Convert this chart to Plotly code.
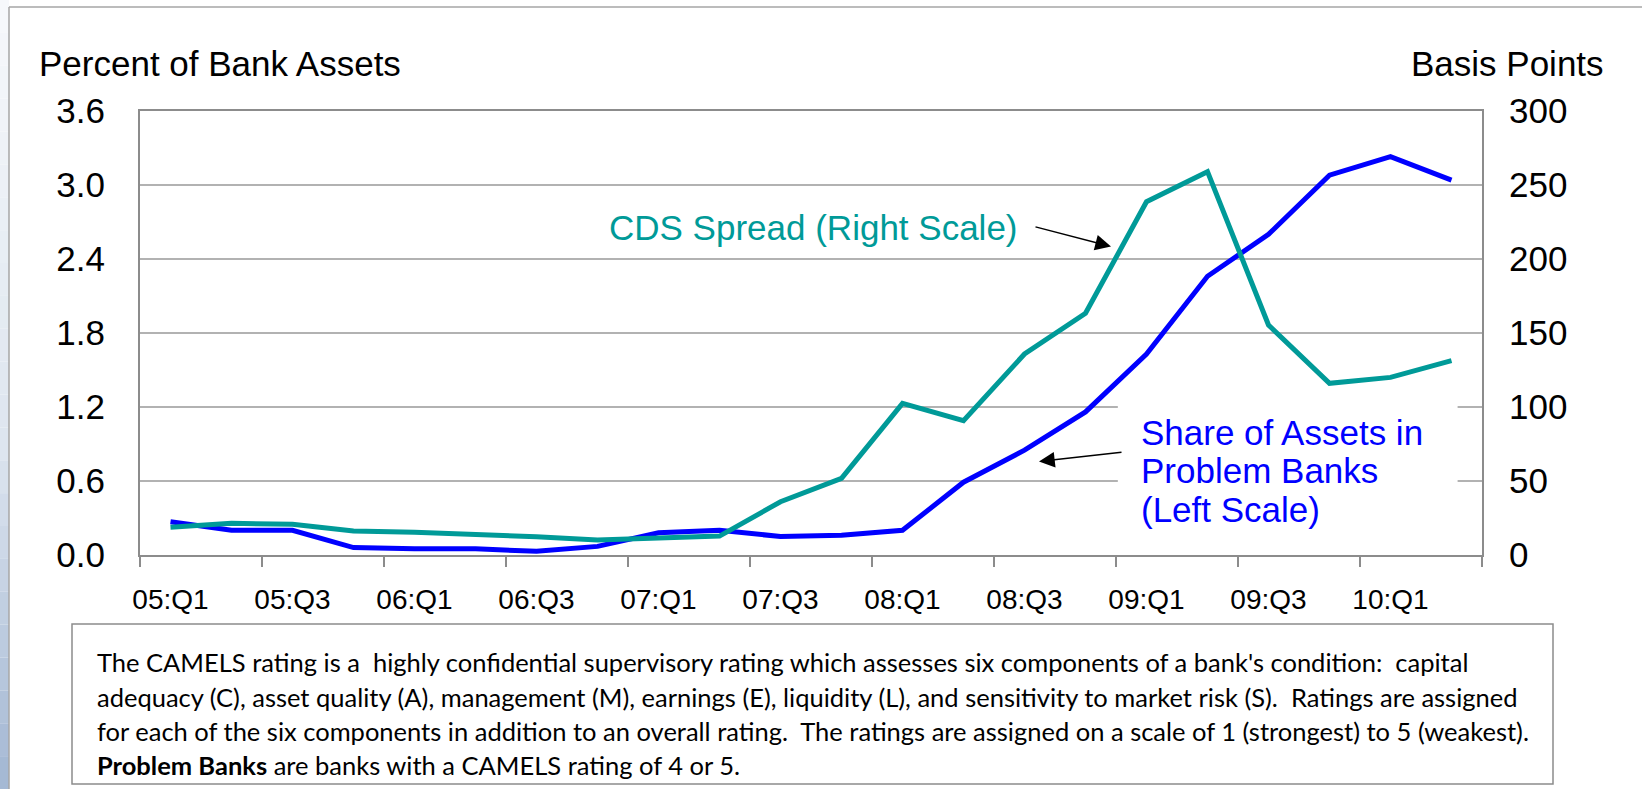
import plotly.graph_objects as go

# ---------------- data ----------------
quarters = ["05:Q1", "05:Q2", "05:Q3", "05:Q4", "06:Q1", "06:Q2", "06:Q3", "06:Q4",
            "07:Q1", "07:Q2", "07:Q3", "07:Q4", "08:Q1", "08:Q2", "08:Q3", "08:Q4",
            "09:Q1", "09:Q2", "09:Q3", "09:Q4", "10:Q1", "10:Q2"]
share_problem_banks = [0.27, 0.20, 0.20, 0.06, 0.05, 0.05, 0.03, 0.07, 0.18, 0.20, 0.15,
                       0.16, 0.20, 0.59, 0.85, 1.16, 1.63, 2.26, 2.60, 3.08, 3.23, 3.04]
cds_spread = [18.7, 21.4, 20.7, 16.2, 15.3, 14.2, 12.4, 10.1, 11.3, 12.8, 36.0,
              51.8, 102.5, 90.7, 135.8, 163.3, 238.7, 259.0, 155.4, 116.0, 120.0, 131.3]
left_ticks = [0.0, 0.6, 1.2, 1.8, 2.4, 3.0, 3.6]
left_tick_labels = ["0.0", "0.6", "1.2", "1.8", "2.4", "3.0", "3.6"]
right_ticks = [0, 50, 100, 150, 200, 250, 300]
right_tick_labels = ["0", "50", "100", "150", "200", "250", "300"]

note_lines = [
    "The CAMELS rating is a  highly confidential supervisory rating which assesses six components of a bank's condition:  capital",
    "adequacy (C), asset quality (A), management (M), earnings (E), liquidity (L), and sensitivity to market risk (S).  Ratings are assigned",
    "for each of the six components in addition to an overall rating.  The ratings are assigned on a scale of 1 (strongest) to 5 (weakest).",
    "<b>Problem Banks</b> are banks with a CAMELS rating of 4 or 5.",
]

# ---------------- style / geometry ----------------
W, H = 1642, 789
L, R, T, B = 140, 1482, 111, 555
BLUE = "#0000FF"
TEAL = "#009A98"
GRID = "#B2B2B2"
AXIS = "#8C8C8C"
FONT = "Liberation Sans, Arial, sans-serif"


def pxx(x):
    return (x - L) / (R - L)


def pxy(y):
    return (B - y) / (B - T)


x_idx = list(range(len(quarters)))

fig = go.Figure()
fig.add_trace(go.Scatter(x=x_idx, y=share_problem_banks, mode="lines", yaxis="y",
                         line=dict(color=BLUE, width=5), hoverinfo="skip"))
fig.add_trace(go.Scatter(x=x_idx, y=cds_spread, mode="lines", yaxis="y2",
                         line=dict(color=TEAL, width=5), hoverinfo="skip"))

fig.update_layout(
    width=W, height=H, autosize=False,
    margin=dict(l=L, r=W - R, t=T, b=H - B, pad=0),
    paper_bgcolor="white", plot_bgcolor="white",
    showlegend=False,
    font=dict(family=FONT, color="black"),
    xaxis=dict(
        range=[-0.5, len(quarters) - 0.5],
        tickmode="array", tickvals=x_idx[::2], ticktext=quarters[::2],
        ticks="", tickfont=dict(size=28, family=FONT), ticklabelstandoff=18,
        showgrid=False, zeroline=False,
        showline=True, linecolor=AXIS, linewidth=2, mirror=True,
        minor=dict(tickmode="array",
                   tickvals=[i - 0.5 for i in range(0, len(quarters) + 1, 2)],
                   ticks="outside", ticklen=10, tickwidth=2, tickcolor=AXIS,
                   showgrid=False),
        fixedrange=True,
    ),
    yaxis=dict(
        range=[0, 3.6], tickmode="array", tickvals=left_ticks, ticktext=left_tick_labels,
        ticks="", tickfont=dict(size=35, family=FONT), ticklabelstandoff=26,
        showgrid=True, gridcolor=GRID, gridwidth=1.5, zeroline=False,
        showline=True, linecolor=AXIS, linewidth=2, mirror=True,
        fixedrange=True,
    ),
    yaxis2=dict(
        range=[0, 300], overlaying="y", side="right",
        tickmode="array", tickvals=right_ticks, ticktext=right_tick_labels,
        ticks="", tickfont=dict(size=35, family=FONT), ticklabelstandoff=26,
        showgrid=False, zeroline=False, showline=False,
        fixedrange=True,
    ),
)

shapes = []
# left bluish gradient strip
stops = [(0, (247, 249, 252)), (450, (221, 229, 239)), (789, (163, 183, 211))]
nb = 24
for k in range(nb):
    y0 = H * k / nb
    y1 = H * (k + 1) / nb
    ym = (y0 + y1) / 2
    for (a, ca), (b, cb) in zip(stops[:-1], stops[1:]):
        if a <= ym <= b:
            t = (ym - a) / (b - a)
            c = tuple(int(ca[i] + (cb[i] - ca[i]) * t) for i in range(3))
    shapes.append(dict(type="rect", xref="paper", yref="paper",
                       x0=pxx(0), x1=pxx(9), y0=pxy(y1), y1=pxy(y0),
                       fillcolor="rgb(%d,%d,%d)" % c, line=dict(width=0), layer="above"))
# outer frame lines
shapes.append(dict(type="line", xref="paper", yref="paper", x0=pxx(9), x1=pxx(W + 5),
                   y0=pxy(7), y1=pxy(7), line=dict(color="#A6A6A6", width=1.5)))
shapes.append(dict(type="line", xref="paper", yref="paper", x0=pxx(9), x1=pxx(9),
                   y0=pxy(7), y1=pxy(H + 5), line=dict(color="#A6A6A6", width=1.5)))
# white background behind blue label
shapes.append(dict(type="rect", xref="x", yref="y", x0=15.53, x1=21.1, y0=0.02, y1=1.29,
                   fillcolor="white", line=dict(width=0), layer="between"))
# note box
shapes.append(dict(type="rect", xref="paper", yref="paper", x0=pxx(72), x1=pxx(1553),
                   y0=pxy(784), y1=pxy(624), fillcolor="white",
                   line=dict(color="#8C8C8C", width=1.5), layer="above"))
fig.update_layout(shapes=shapes)

ann = []
ann.append(dict(text="Percent of Bank Assets", xref="paper", yref="paper",
                x=pxx(37), y=pxy(63), xanchor="left", yanchor="middle", showarrow=False,
                font=dict(size=35, family=FONT, color="black")))
ann.append(dict(text="Basis Points", xref="paper", yref="paper",
                x=pxx(1606), y=pxy(63), xanchor="right", yanchor="middle", showarrow=False,
                font=dict(size=35, family=FONT, color="black")))
ann.append(dict(text="CDS Spread (Right Scale)", xref="paper", yref="paper",
                x=pxx(813), y=pxy(227), xanchor="center", yanchor="middle", showarrow=False,
                font=dict(size=35, family=FONT, color=TEAL)))
for txt, yc in zip(["Share of Assets in", "Problem Banks", "(Left Scale)"], [432.5, 471, 509.5]):
    ann.append(dict(text=txt, xref="paper", yref="paper",
                    x=pxx(1139), y=pxy(yc), xanchor="left", yanchor="middle", showarrow=False,
                    font=dict(size=35, family=FONT, color=BLUE)))
# arrows
ann.append(dict(text="", xref="paper", yref="paper", x=pxx(1111), y=pxy(246.5),
                ax=1034 - 1111, ay=226.5 - 246.5, axref="pixel", ayref="pixel",
                showarrow=True, arrowhead=2, arrowsize=2.1, arrowwidth=1.5, arrowcolor="black"))
ann.append(dict(text="", xref="paper", yref="paper", x=pxx(1039), y=pxy(461.5),
                ax=1123 - 1039, ay=452 - 461.5, axref="pixel", ayref="pixel",
                showarrow=True, arrowhead=2, arrowsize=2.1, arrowwidth=1.5, arrowcolor="black"))
# note text
for txt, yc in zip(note_lines, [662, 697, 731, 765]):
    ann.append(dict(text=txt, xref="paper", yref="paper",
                    x=pxx(95), y=pxy(yc), xanchor="left", yanchor="middle", showarrow=False,
                    font=dict(size=25.5, family="Lato, Carlito, Calibri, sans-serif", color="black")))
fig.update_layout(annotations=ann)

fig.write_html("out.html", config={"displayModeBar": False},
               post_script="document.body.style.margin='0px';document.body.style.overflow='hidden';")
